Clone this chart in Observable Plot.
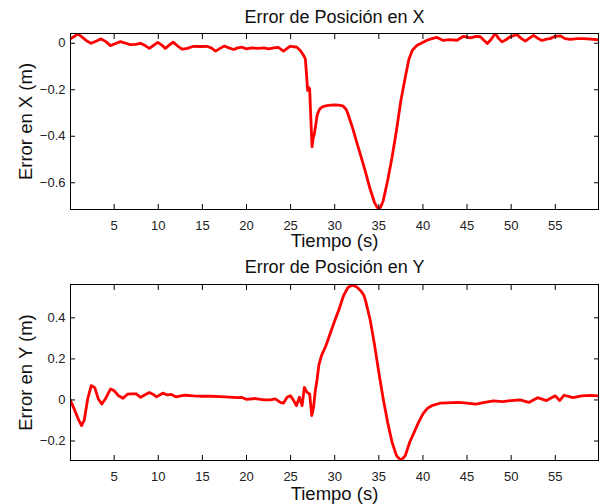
<!DOCTYPE html>
<html>
<head>
<meta charset="utf-8">
<script src="https://cdn.jsdelivr.net/npm/d3@7"></script>
<script src="https://cdn.jsdelivr.net/npm/@observablehq/plot@0.6"></script>
<style>
  html, body { margin: 0; padding: 0; background: #fff; }
  #wrap { width: 605px; height: 504px; }
  svg { display: block; }
</style>
</head>
<body>
<div id="wrap"></div>
<script>
// ---- Data ----
const titleX = "Error de Posición en X";
const titleY = "Error de Posición en Y";
const xLabel = "Tiempo (s)";
const yLabelX = "Error en X (m)";
const yLabelY = "Error en Y (m)";

const xTicks = [5, 10, 15, 20, 25, 30, 35, 40, 45, 50, 55];
const yTicksX = [0, -0.2, -0.4, -0.6];
const yTicksY = [-0.2, 0, 0.2, 0.4];

const tX = [0.05,0.5,0.88,1.37,1.9,2.39,3.0,3.52,4.1,4.58,5.1,5.71,6.3,6.84,7.4,7.98,8.5,9.0,9.5,9.94,10.4,10.8,11.25,11.68,12.2,12.7,13.3,14.0,14.8,15.5,16.0,16.5,17.0,17.5,18.0,18.55,19.0,19.5,20.0,20.6,21.3,22.0,22.5,23.1,23.6,24.2,24.6,24.97,25.3,25.7,26.1,26.48,26.67,26.8,26.93,27.05,27.16,27.24,27.43,27.55,27.69,27.85,28.0,28.2,28.37,28.7,29.1,29.6,30.0,30.4,30.8,31.0,31.3,31.5,32.0,32.5,33.0,33.5,34.0,34.5,34.8,35.0,35.2,35.5,36.0,36.5,37.0,37.5,38.0,38.4,38.8,39.3,39.8,40.46,41.0,41.6,42.3,43.0,43.86,44.6,45.4,46.0,46.5,47.0,47.3,47.7,48.2,48.6,48.96,49.4,49.9,50.66,51.1,51.6,52.0,52.54,53.0,53.5,54.0,54.4,55.0,55.56,56.1,56.7,57.5,58.2,59.0,59.9];
const errX = [0.019,0.03,0.04,0.026,0.01,0.0,0.01,0.019,0.006,-0.01,-0.002,0.007,0.0,-0.006,-0.005,0.0,-0.01,-0.022,-0.008,0.004,-0.008,-0.022,-0.008,0.005,-0.012,-0.025,-0.022,-0.013,-0.014,-0.013,-0.02,-0.034,-0.022,-0.012,-0.02,-0.027,-0.02,-0.017,-0.024,-0.02,-0.022,-0.02,-0.024,-0.02,-0.018,-0.034,-0.022,-0.012,-0.015,-0.017,-0.031,-0.053,-0.067,-0.132,-0.203,-0.19,-0.196,-0.275,-0.445,-0.41,-0.39,-0.35,-0.311,-0.29,-0.28,-0.272,-0.268,-0.266,-0.265,-0.266,-0.268,-0.272,-0.285,-0.304,-0.361,-0.426,-0.49,-0.555,-0.626,-0.684,-0.705,-0.712,-0.705,-0.677,-0.59,-0.49,-0.375,-0.246,-0.146,-0.07,-0.03,-0.01,0.0,0.013,0.02,0.025,0.012,0.016,0.013,0.03,0.023,0.03,0.028,0.01,-0.001,0.015,0.042,0.02,0.006,0.015,0.028,0.037,0.022,0.009,0.02,0.034,0.022,0.012,0.018,0.02,0.03,0.032,0.02,0.017,0.02,0.02,0.018,0.015];

const tY = [0.05,0.5,1.0,1.3,1.6,2.0,2.4,2.8,3.2,3.6,4.0,4.6,5.0,5.5,6.0,6.5,7.0,7.5,8.0,8.5,9.0,9.5,9.8,10.5,11.0,11.5,12.0,13.0,14.0,15.0,16.0,17.0,18.0,19.0,19.5,20.0,21.0,22.0,22.7,23.27,23.84,24.2,24.6,24.97,25.35,25.65,26.0,26.3,26.56,26.86,27.16,27.4,27.6,27.8,28.0,28.2,28.5,29.0,29.5,30.0,30.5,31.0,31.5,32.0,32.5,33.0,33.3,33.5,34.0,34.5,35.0,35.5,36.0,36.5,37.0,37.5,38.0,38.5,39.0,39.5,40.0,40.5,41.0,42.0,44.0,45.0,46.0,47.0,48.0,49.0,50.0,51.0,52.0,53.0,54.0,55.0,55.5,56.0,57.0,58.0,59.0,59.9];
const errY = [-0.003,-0.047,-0.1,-0.125,-0.1,0.005,0.07,0.06,0.005,-0.02,0.005,0.054,0.045,0.02,0.008,0.028,0.03,0.03,0.013,0.025,0.036,0.025,0.015,0.033,0.025,0.027,0.015,0.023,0.02,0.018,0.018,0.016,0.014,0.011,0.012,0.003,0.007,0.0,0.0,0.005,-0.012,-0.015,0.013,0.021,-0.003,-0.028,0.013,-0.028,0.061,0.037,0.029,-0.076,-0.036,0.045,0.1,0.17,0.216,0.264,0.325,0.386,0.443,0.508,0.548,0.56,0.55,0.53,0.51,0.483,0.394,0.272,0.134,0.005,-0.109,-0.206,-0.271,-0.295,-0.271,-0.206,-0.158,-0.109,-0.068,-0.041,-0.028,-0.015,-0.012,-0.015,-0.02,-0.012,-0.005,-0.008,-0.003,0.0,-0.012,0.011,-0.003,0.02,-0.003,0.023,0.011,0.02,0.022,0.02];

const xDomain = [0.05, 59.9];
const yDomainX = [-0.715, 0.042];
const yDomainY = [-0.295, 0.5625];

// ---- Drawing ----
const FONT = "'Liberation Sans', Arial, Helvetica, sans-serif";
const W = 605, ML = 70, MR = 7;
const fmt = (d) => String(d).replace("-", "\u2212");

function panel({t, v, yDomain, yTicks, title, yLabel, marginTop, marginBottom, height, titleGap, xLabelGap}) {
  const data = t.map((d, i) => ({t: d, v: v[i]}));
  const frameCenterX = ML + (W - ML - MR) / 2;
  return Plot.plot({
    width: W,
    height,
    marginLeft: ML,
    marginRight: MR,
    marginTop,
    marginBottom,
    style: {fontFamily: FONT, fontSize: "13px", color: "black", background: "white", overflow: "visible"},
    x: {domain: xDomain, nice: false},
    y: {domain: yDomain, nice: false},
    marks: [
      Plot.line(data, {x: "t", y: "v", stroke: "#ff0000", strokeWidth: 2.8, clip: true}),
      Plot.frame({stroke: "black", strokeWidth: 1}),
      // inward ticks on all four sides
      Plot.axisX(xTicks, {anchor: "bottom", tickSize: -5, fill: "none", label: null, stroke: "black"}),
      Plot.axisX(xTicks, {anchor: "top", tickSize: -5, fill: "none", label: null, stroke: "black"}),
      Plot.axisY(yTicks, {anchor: "left", tickSize: -5, fill: "none", label: null, stroke: "black"}),
      Plot.axisY(yTicks, {anchor: "right", tickSize: -5, fill: "none", label: null, stroke: "black"}),
      // tick labels
      Plot.axisX(xTicks, {anchor: "bottom", tickSize: 0, tickPadding: 11, label: null, fontSize: 13, fill: "#222", tickFormat: fmt}),
      Plot.axisY(yTicks, {anchor: "left", tickSize: 0, tickPadding: 5, label: null, fontSize: 13, fill: "#222", tickFormat: fmt}),
      // title and axis labels
      Plot.text([title], {frameAnchor: "top", textAnchor: "middle", lineAnchor: "bottom", dy: -titleGap, fontSize: 18, fill: "#111"}),
      Plot.text([xLabel], {frameAnchor: "bottom", textAnchor: "middle", lineAnchor: "bottom", dy: xLabelGap, fontSize: 18.5, fill: "#111"}),
      Plot.text([yLabel], {frameAnchor: "middle", textAnchor: "middle", lineAnchor: "bottom", rotate: -90, dx: 31 - frameCenterX, fontSize: 18.5, fill: "#111"})
    ]
  });
}

const wrap = document.getElementById("wrap");
wrap.appendChild(panel({
  t: tX, v: errX, yDomain: yDomainX, yTicks: yTicksX, title: titleX, yLabel: yLabelX,
  marginTop: 33, marginBottom: 43, height: 252, titleGap: 11, xLabelGap: 37.5
}));
wrap.appendChild(panel({
  t: tY, v: errY, yDomain: yDomainY, yTicks: yTicksY, title: titleY, yLabel: yLabelY,
  marginTop: 32, marginBottom: 44, height: 252, titleGap: 12, xLabelGap: 39
}));
</script>
</body>
</html>
